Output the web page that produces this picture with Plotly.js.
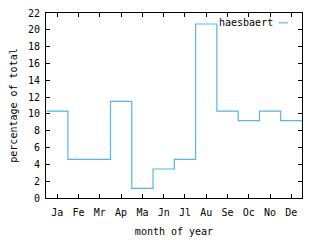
<!DOCTYPE html>
<html>
<head>
<meta charset="utf-8">
<script src="https://cdn.plot.ly/plotly-3.0.1.min.js"></script>
<style>html,body{margin:0;padding:0;background:#fff;}#chart{width:320px;height:240px;}</style>
</head>
<body>
<div id="chart"></div>
<script>
var months = ["Ja","Fe","Mr","Ap","Ma","Jn","Jl","Au","Se","Oc","No","De"];
var seriesName = "haesbaert";
var percentages = [10.34, 4.60, 4.60, 11.49, 1.15, 3.45, 4.60, 20.69, 10.34, 9.20, 10.34, 9.20];
var yTicks = [0,2,4,6,8,10,12,14,16,18,20,22];

var positions = months.map(function(m,i){return i+1;});
// histogram steps: each month spans [i-0.5, i+0.5]
var stepX = positions.map(function(p){return p-0.5;}).concat([positions[positions.length-1]+0.5]);
var stepY = percentages.concat([percentages[percentages.length-1]]);

var font = {family: "DejaVu Sans Mono, monospace", size: 10, color: "#000"};
var lineColor = "#56b4e9";

var trace = {
  x: stepX, y: stepY, type: "scatter", mode: "lines",
  line: {shape: "hv", color: lineColor, width: 1.2},
  name: seriesName, showlegend: false, hoverinfo: "none"
};

var axisCommon = {
  showline: true, mirror: "ticks", linecolor: "#000", linewidth: 1,
  ticks: "inside", ticklen: 4, tickcolor: "#000", tickwidth: 1,
  showgrid: false, zeroline: false, tickfont: font
};

var layout = {
  width: 320, height: 240,
  margin: {l: 46, r: 18, t: 13, b: 42},
  paper_bgcolor: "#fff", plot_bgcolor: "#fff",
  font: font,
  xaxis: Object.assign({}, axisCommon, {
    range: [0.47, 12.5], tickmode: "array", tickvals: positions, ticktext: months,
    ticklabelstandoff: 5,
    title: {text: "month of year", font: font, standoff: 10}
  }),
  yaxis: Object.assign({}, axisCommon, {
    range: [0, 22], tickmode: "array", tickvals: yTicks, ticktext: yTicks.map(String),
    ticklabelstandoff: 3,
    title: {text: "percentage of total", font: font, standoff: 8}
  }),
  annotations: [{
    xref: "paper", yref: "paper", x: 0.893, y: 0.947, xanchor: "right", yanchor: "middle",
    text: seriesName, showarrow: false, font: font
  }],
  shapes: [{
    type: "line", xref: "paper", yref: "paper", x0: 0.91, x1: 0.945, y0: 0.947, y1: 0.947,
    line: {color: lineColor, width: 1.2}
  }]
};

Plotly.newPlot("chart", [trace], layout, {staticPlot: true, displayModeBar: false});
</script>
</body>
</html>
